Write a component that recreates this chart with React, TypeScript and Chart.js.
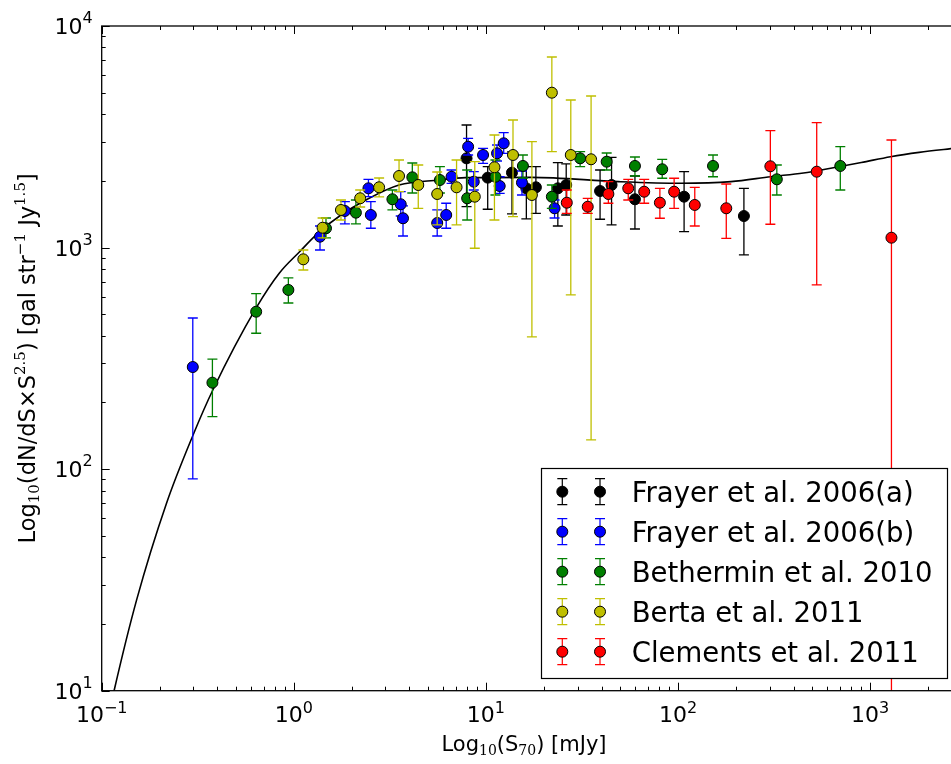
import React, { useEffect, useRef } from "react";
import { Chart, registerables } from "chart.js";
Chart.register(...registerables);

const X_MIN = 0.1;
const X_MAX = 2801;
const Y_MIN = 10;
const Y_MAX = 10000;

// Model curve
const curveX = [0.108, 0.116, 0.152, 0.2175, 0.299, 0.379, 0.637, 0.842, 1.069, 1.358, 1.761, 2.373, 3.532, 5.696, 7.84, 17.3, 48.9, 103.9, 188.8, 304.5, 450, 623.7, 900, 1278, 1800, 2801];
const curveY = [7.5, 10, 25.7, 70.2, 142.6, 227.6, 533.9, 767.9, 955, 1176, 1403, 1640, 1916, 2018, 2068, 2075, 1984, 1951, 1984, 2089, 2170, 2280, 2420, 2572, 2690, 2810];

// Frayer et al. 2006(a)
const frayerAX = [7.93, 10.22, 13.67, 16.24, 18.21, 23.69, 26.19, 39.3, 45.1, 59.7, 107.6, 220.4];
const frayerAY = [2528, 2068, 2178, 1851, 1871, 1851, 1916, 1800, 1916, 1652, 1697, 1388];
const frayerAHi = [3574, 2317, 2701, 2317, 2317, 2416, 2384, 2239, 2555, 2104, 2200, 1851];
const frayerALo = [1529, 1489, 1418, 1346, 1428, 1251, 1403, 1342, 1265, 1213, 1179, 926];

// Frayer et al. 2006(b)
const frayerBX = [0.298, 1.369, 1.845, 2.447, 2.518, 3.603, 3.703, 5.579, 6.214, 6.627, 8.082, 8.65, 9.667, 11.43, 12.38, 11.8, 15.41, 22.78];
const frayerBY = [289, 1120, 1463, 1851, 1403, 1568, 1356, 1291, 1403, 2088, 2852, 1983, 2617, 2664, 2955, 1896, 1963, 1504];
const frayerBHi = [481, 1251, 1611, 2033, 1611, 1787, 1541, 1478, 1585, 2239, 3113, 2200, 2806, 2904, 3300, 2088, 2216, 1639];
const frayerBLo = [90.3, 975, 1278, 1697, 1222, 1388, 1128, 1128, 1222, 1950, 2617, 1819, 2401, 2459, 2664, 1758, 1727, 1360];

// Bethermin et al. 2010
const bethX = [0.377, 0.637, 0.937, 1.471, 2.105, 3.261, 4.14, 5.763, 7.99, 11.21, 15.59, 22.05, 30.95, 42.54, 59.7, 82.77, 152.2, 327, 699.8];
const bethY = [245.6, 513.5, 643.8, 1222, 1437, 1652, 2075, 2018, 1669, 2088, 2335, 1697, 2528, 2441, 2335, 2256, 2335, 2033, 2335];
const bethHi = [314, 619.4, 729.2, 1360, 1639, 1819, 2408, 2317, 2239, 2485, 2617, 1916, 2709, 2672, 2563, 2503, 2617, 2359, 2852];
const bethLo = [172.5, 410.4, 562, 1105, 1278, 1478, 1763, 1763, 1332, 1727, 2061, 1504, 2317, 2239, 2104, 2055, 2088, 1727, 1819];

// Berta et al. 2011
const bertaX = [1.121, 1.412, 1.76, 2.216, 2.781, 3.531, 4.446, 5.579, 7.036, 8.754, 11.08, 13.84, 17.36, 22.05, 27.67, 35.29];
const bertaY = [885, 1229, 1478, 1669, 1871, 2104, 1916, 1745, 1871, 1697, 2303, 2617, 1727, 5000, 2617, 2503];
const bertaHi = [975, 1360, 1639, 1819, 2061, 2485, 2359, 2193, 2485, 2441, 3222, 3765, 3005, 7246, 4634, 4831];
const bertaLo = [792, 1105, 1332, 1524, 1692, 1787, 1504, 1265, 1265, 993, 1332, 1378, 395, 2709, 611, 135.4];

// Clements et al. 2011
const clemX = [26.37, 33.9, 43.42, 55.1, 66.7, 80.5, 95.5, 122.3, 178.4, 302.6, 527.5, 1292];
const clemY = [1594, 1529, 1745, 1851, 1787, 1594, 1787, 1557, 1504, 2327, 2200, 1108];
const clemHi = [1819, 1669, 1983, 2033, 2033, 1851, 2055, 1871, 1936, 3369, 3661, 3059];
const clemLo = [1428, 1428, 1585, 1639, 1585, 1356, 1504, 1251, 1101, 1274, 678, 1];

const seriesNames = ["Frayer et al. 2006(a)", "Frayer et al. 2006(b)", "Bethermin et al. 2010", "Berta et al. 2011", "Clements et al. 2011"];
const seriesColors = ["#000000", "#0000ff", "#007f00", "#bfbf00", "#ff0000"];

const xTickExps = [-1, 0, 1, 2, 3];
const yTickExps = [1, 2, 3, 4];

const FONT = '"DejaVu Sans", sans-serif';
const SERIF = '"DejaVu Serif", serif';

type Seg = { t: string; size: number; dy?: number; family?: string };

function segWidth(ctx: CanvasRenderingContext2D, segs: Seg[]) {
  let w = 0;
  for (const s of segs) {
    ctx.font = `${s.size}px ${s.family || FONT}`;
    w += ctx.measureText(s.t).width;
  }
  return w;
}
function drawSegs(ctx: CanvasRenderingContext2D, segs: Seg[], x: number, y: number) {
  for (const s of segs) {
    ctx.font = `${s.size}px ${s.family || FONT}`;
    ctx.fillText(s.t, x, y + (s.dy || 0));
    x += ctx.measureText(s.t).width;
  }
}

function mk(label: string, xs: number[], ys: number[], hi: number[], lo: number[], color: string, order: number) {
  return {
    label,
    data: xs.map((x, i) => ({ x, y: ys[i] })),
    errHi: hi,
    errLo: lo,
    errColor: color,
    pointRadius: 5.5,
    pointHoverRadius: 5.5,
    pointBackgroundColor: color,
    pointBorderColor: "#000",
    pointBorderWidth: 1,
    showLine: false,
    order,
  };
}

export default function App() {
  const ref = useRef<HTMLCanvasElement>(null);
  useEffect(() => {
    const canvas = ref.current!;
    const errorBarPlugin = {
      id: "errbars",
      beforeDatasetDraw(chart: any, args: any) {
        const ds: any = chart.data.datasets[args.index];
        if (!ds.errLo) return;
        const { ctx, chartArea: ca } = chart;
        const xs = chart.scales.x;
        const ys = chart.scales.y;
        ctx.save();
        ctx.beginPath();
        ctx.rect(ca.left, ca.top, ca.right - ca.left, ca.bottom - ca.top);
        ctx.clip();
        ctx.strokeStyle = ds.errColor;
        ctx.lineWidth = 1.3;
        ds.data.forEach((p: any, i: number) => {
          const px = xs.getPixelForValue(p.x);
          const top = ys.getPixelForValue(ds.errHi[i]);
          const bot = ys.getPixelForValue(ds.errLo[i]);
          ctx.beginPath();
          ctx.moveTo(px, top);
          ctx.lineTo(px, bot);
          ctx.moveTo(px - 5, top);
          ctx.lineTo(px + 5, top);
          ctx.moveTo(px - 5, bot);
          ctx.lineTo(px + 5, bot);
          ctx.stroke();
        });
        ctx.restore();
      },
    };
    const axesPlugin = {
      id: "mplaxes",
      afterDraw(chart: any) {
        const { ctx, chartArea: ca } = chart;
        const xs = chart.scales.x;
        const ys = chart.scales.y;
        ctx.save();
        // frame
        ctx.strokeStyle = "#000";
        ctx.lineWidth = 1.3;
        ctx.strokeRect(ca.left, ca.top, ca.right - ca.left, ca.bottom - ca.top);
        ctx.lineWidth = 1;
        ctx.beginPath();
        for (let e = -1; e <= 3; e++) {
          for (let m = 1; m <= 9; m++) {
            const v = m * Math.pow(10, e);
            if (v < X_MIN || v > X_MAX) continue;
            const px = Math.round(xs.getPixelForValue(v)) + 0.5;
            const len = m === 1 ? 8 : 4;
            ctx.moveTo(px, ca.bottom);
            ctx.lineTo(px, ca.bottom - len);
            ctx.moveTo(px, ca.top);
            ctx.lineTo(px, ca.top + len);
          }
        }
        for (let e = 1; e <= 4; e++) {
          for (let m = 1; m <= 9; m++) {
            const v = m * Math.pow(10, e);
            if (v < Y_MIN || v > Y_MAX) continue;
            const py = Math.round(ys.getPixelForValue(v)) + 0.5;
            const len = m === 1 ? 8 : 4;
            ctx.moveTo(ca.left, py);
            ctx.lineTo(ca.left + len, py);
          }
        }
        ctx.stroke();

        // tick labels
        ctx.fillStyle = "#000";
        ctx.textAlign = "left";
        ctx.textBaseline = "alphabetic";
        for (const e of yTickExps) {
          const py = ys.getPixelForValue(Math.pow(10, e));
          const segs: Seg[] = [
            { t: "10", size: 22 },
            { t: String(e), size: 16, dy: -11 },
          ];
          const w = segWidth(ctx, segs);
          drawSegs(ctx, segs, ca.left - 9 - w, py + 8);
        }
        for (const e of xTickExps) {
          const px = xs.getPixelForValue(Math.pow(10, e));
          const segs: Seg[] = [
            { t: "10", size: 22 },
            { t: e < 0 ? "\u2212" + String(-e) : String(e), size: 16, dy: -9 },
          ];
          const w = segWidth(ctx, segs);
          drawSegs(ctx, segs, px - w / 2, ca.bottom + 31);
        }

        // x title
        const xt: Seg[] = [
          { t: "Log", size: 21 },
          { t: "10", size: 14, dy: 4, family: SERIF },
          { t: "(S", size: 21 },
          { t: "70", size: 14, dy: 4, family: SERIF },
          { t: ") [mJy]", size: 21 },
        ];
        const xw = segWidth(ctx, xt);
        drawSegs(ctx, xt, 524 - xw / 2, 751);

        // y title
        const yt: Seg[] = [
          { t: "Log", size: 22.5 },
          { t: "10", size: 15, dy: 4, family: SERIF },
          { t: "(dN/dS\u00d7S", size: 22.5 },
          { t: "2.5", size: 15, dy: -10, family: SERIF },
          { t: ") [gal str", size: 22.5 },
          { t: "\u22121", size: 15, dy: -10, family: SERIF },
          { t: " Jy", size: 22.5 },
          { t: "1.5", size: 15, dy: -10, family: SERIF },
          { t: "]", size: 22.5 },
        ];
        const yw = segWidth(ctx, yt);
        ctx.save();
        ctx.translate(35, (ca.top + ca.bottom) / 2);
        ctx.rotate(-Math.PI / 2);
        drawSegs(ctx, yt, -yw / 2, 0);
        ctx.restore();

        // legend
        const lx = 541.5, ly = 468.5, lw = 406, lh = 210;
        ctx.fillStyle = "#fff";
        ctx.fillRect(lx, ly, lw, lh);
        ctx.strokeStyle = "#000";
        ctx.lineWidth = 1.2;
        ctx.strokeRect(lx, ly, lw, lh);
        seriesNames.forEach((name, i) => {
          const cy = 491.7 + i * 40;
          const col = seriesColors[i];
          for (const mx of [562.3, 600]) {
            ctx.strokeStyle = col;
            ctx.lineWidth = 1.2;
            ctx.beginPath();
            ctx.moveTo(mx, cy - 13);
            ctx.lineTo(mx, cy + 13);
            ctx.moveTo(mx - 5, cy - 13);
            ctx.lineTo(mx + 5, cy - 13);
            ctx.moveTo(mx - 5, cy + 13);
            ctx.lineTo(mx + 5, cy + 13);
            ctx.stroke();
            ctx.beginPath();
            ctx.arc(mx, cy, 5.5, 0, Math.PI * 2);
            ctx.fillStyle = col;
            ctx.fill();
            ctx.strokeStyle = "#000";
            ctx.lineWidth = 1;
            ctx.stroke();
          }
          ctx.fillStyle = "#000";
          ctx.font = `27.5px ${FONT}`;
          ctx.fillText(name, 631.7, cy + 10);
        });
        ctx.restore();
      },
    };

    const chart = new Chart(canvas, {
      type: "scatter",
      data: {
        datasets: [
          {
            label: "model",
            data: curveX.map((x, i) => ({ x, y: curveY[i] })),
            showLine: true,
            borderColor: "#000",
            borderWidth: 1.6,
            pointRadius: 0,
            pointHoverRadius: 0,
            cubicInterpolationMode: "monotone",
            order: 10,
          } as any,
          mk(seriesNames[0], frayerAX, frayerAY, frayerAHi, frayerALo, seriesColors[0], 5),
          mk(seriesNames[1], frayerBX, frayerBY, frayerBHi, frayerBLo, seriesColors[1], 4),
          mk(seriesNames[2], bethX, bethY, bethHi, bethLo, seriesColors[2], 3),
          mk(seriesNames[3], bertaX, bertaY, bertaHi, bertaLo, seriesColors[3], 2),
          mk(seriesNames[4], clemX, clemY, clemHi, clemLo, seriesColors[4], 1),
        ] as any,
      },
      options: {
        animation: false,
        responsive: false,
        devicePixelRatio: 1,
        events: [],
        layout: { autoPadding: false, padding: { left: 101.7, top: 26, right: 0, bottom: 73.3 } },
        scales: {
          x: { type: "logarithmic", min: X_MIN, max: X_MAX, display: false },
          y: { type: "logarithmic", min: Y_MIN, max: Y_MAX, display: false },
        },
        plugins: { legend: { display: false }, tooltip: { enabled: false } },
      } as any,
      plugins: [errorBarPlugin, axesPlugin],
    });
    return () => chart.destroy();
  }, []);
  return (
    <div style={{ position: "absolute", left: 0, top: 0, width: 951, height: 764, overflow: "hidden", background: "#fff" }}>
      <canvas ref={ref} width={956} height={764} style={{ display: "block" }} />
    </div>
  );
}
